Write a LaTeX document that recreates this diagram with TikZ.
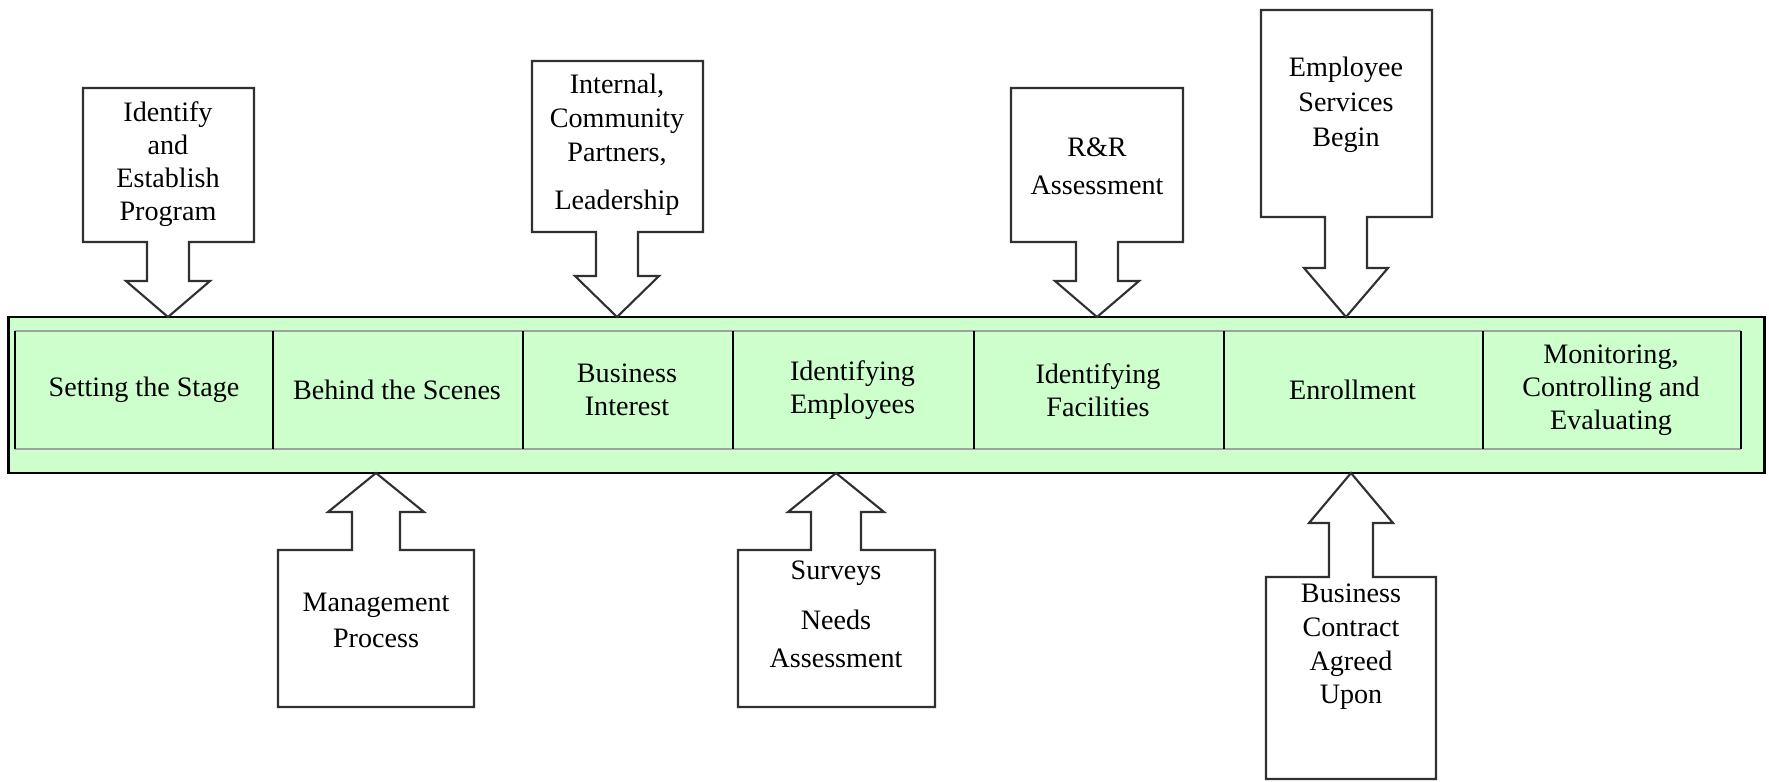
\documentclass[tikz,border=0pt]{standalone}
\usepackage{fontspec}
\setmainfont{Liberation Serif}
\usepackage{xcolor}
\usetikzlibrary{positioning}
\definecolor{cbar}{HTML}{CCFFCC}
\definecolor{crule}{HTML}{A0A0A0}
\definecolor{cline}{HTML}{303030}

\begin{document}
\begin{tikzpicture}[x=0.01cm,y=-0.01cm,
  lbl/.style={align=center,inner sep=0pt,font=\fontsize{8}{9.4}\selectfont},
  cell/.style={lbl,minimum height=1.16cm}]
  \useasboundingbox (0,0) rectangle (1769,781);
  \node[draw=black,line width=0.7pt,fill=cbar,minimum width=17.55cm,minimum height=1.56cm,inner sep=0pt] (bar) at (886.5,395) {};
  \foreach \lx/\rx/\txt [count=\i] in {16/272/{Setting the Stage},272/522/{Behind the Scenes},
      522/732/{Business\\Interest},732/973/{Identifying\\Employees},973/1223/{Identifying\\Facilities},
      1223/1482/{Enrollment},1482/1740/{Monitoring,\\Controlling and\\Evaluating}} {
    \pgfmathsetmacro\cellw{(\rx-\lx)*0.01}
    \node[cell,minimum width=\cellw cm] (c\i) at ({(\lx+\rx)/2},390) {\txt};
  }
  \draw[crule,line width=0.6pt] (c1.north west) -- (c7.north east) (c1.south west) -- (c7.south east);
  \draw[line width=0.6pt] (c1.north west) -- (c1.south west);
  \foreach \i in {1,...,7} \draw[line width=0.6pt] (c\i.north east) -- (c\i.south east);
  \foreach \cx/\lx/\rx/\fy/\ny/\sw/\ww/\wy/\ty in {168/83/254/88/242/21/42/281/317,
      617/532/703/61/232/21/42/276/317,1097/1011/1183/88/242/21/42/281/317,
      1346/1261/1432/10/217/21/42/268/317,376/278/474/707/550/24/48/512/473,
      836/738/935/707/550/25/48/512/473,1351/1266/1436/779/577/22/42/523/473} {
    \draw[cline,line width=0.6pt,fill=white] (\lx,\fy) -- (\rx,\fy) -- (\rx,\ny) -- (\cx+\sw,\ny)
      -- (\cx+\sw,\wy) -- (\cx+\ww,\wy) -- (\cx,\ty) -- (\cx-\ww,\wy) -- (\cx-\sw,\wy)
      -- (\cx-\sw,\ny) -- (\lx,\ny) -- cycle;
  }
  \node[lbl] (identify) at (168,164) {Identify\\and\\Establish\\Program};
  \node[lbl,font=\fontsize{8}{9.7}\selectfont] (partners) at (617,145) {Internal,\\Community\\Partners,\\[4pt]Leadership};
  \node[lbl,font=\fontsize{8}{10.8}\selectfont] (assess) at (1097,166) {R\&R\\Assessment};
  \node[lbl,font=\fontsize{8}{10}\selectfont] (services) at (1346,105) {Employee\\Services\\Begin};
  \node[lbl,font=\fontsize{8}{10.2}\selectfont] (mgmt) at (376,620) {Management\\Process};
  \node[lbl,font=\fontsize{8}{10.8}\selectfont] (surveys) at (836,614) {Surveys\\[3.4pt]Needs\\Assessment};
  \node[lbl,font=\fontsize{8}{9.6}\selectfont] (contract) at (1351,647) {Business\\Contract\\Agreed\\Upon};
\end{tikzpicture}
\end{document}
